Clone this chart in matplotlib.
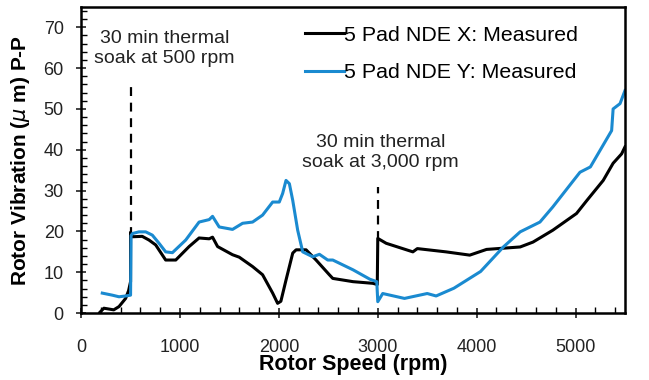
import numpy as np
import matplotlib
matplotlib.use("Agg")
import matplotlib.pyplot as plt
from matplotlib.ticker import MultipleLocator

plt.rcParams['font.family'] = ['Liberation Sans', 'DejaVu Sans']

# 5 Pad NDE X (black)
x_rpm = [190, 230, 330, 383, 450, 480, 500, 500, 518, 618, 686, 754, 855, 957, 1092, 1193,
         1295, 1329, 1380, 1531, 1599, 1734, 1835, 1937, 1987, 2020, 2072, 2140, 2174,
         2275, 2376, 2510, 2545, 2750, 2950, 2995, 3000, 3085, 3355, 3400, 3690, 3930,
         4100, 4440, 4570, 4770, 5010, 5115, 5280, 5380, 5466, 5500]
x_amp = [0.2, 1.2, 0.8, 1.6, 3.6, 5.5, 7.7, 19.8, 18.7, 18.8, 17.9, 16.7, 13.0, 13.0, 16.3,
         18.4, 18.2, 18.6, 16.3, 14.3, 13.7, 11.4, 9.4, 4.9, 2.4, 2.9, 8.1, 14.7, 15.5,
         15.5, 13.0, 9.4, 8.5, 7.7, 7.3, 7.0, 18.3, 17.1, 15.0, 15.8, 15.0, 14.2,
         15.6, 16.2, 17.4, 20.3, 24.4, 27.6, 32.5, 36.7, 39.0, 40.7]

# 5 Pad NDE Y (blue)
y_rpm = [214, 315, 383, 450, 500, 505, 520, 585, 653, 720, 788, 855, 923, 1058, 1193, 1295,
         1329, 1396, 1531, 1633, 1734, 1835, 1937, 2004, 2038, 2072, 2106, 2140, 2190,
         2241, 2342, 2410, 2494, 2545, 2750, 2920, 2990, 3000, 3050, 3270, 3500, 3590,
         3770, 4040, 4270, 4440, 4640, 4770, 4980, 5045, 5150, 5365, 5380, 5450, 5500]
y_amp = [4.9, 4.4, 4.0, 4.2, 4.4, 19.0, 19.5, 19.9, 19.9, 19.1, 17.1, 15.0, 14.8, 17.9, 22.3,
         22.9, 23.7, 21.1, 20.5, 22.0, 22.3, 24.0, 27.2, 27.2, 29.3, 32.5, 31.7, 27.6, 20.3,
         15.0, 13.8, 14.4, 13.0, 13.0, 10.6, 8.3, 7.7, 2.8, 4.8, 3.6, 4.8, 4.2,
         6.1, 10.2, 16.2, 19.9, 22.3, 26.0, 32.5, 34.5, 35.8, 44.7, 50.0, 51.3, 54.5]

soak_rpm = [500, 3000]
soak_top = [56, 31]
soak_bottom = [19, 18]
soak_text = ["30 min thermal\nsoak at 500 rpm", "30 min thermal\nsoak at 3,000 rpm"]
soak_text_pos = [(840, 64.8), (3026, 39.4)]

fig = plt.figure(figsize=(6.49, 3.8), dpi=100)
ax = fig.add_axes([0.125, 0.176, 0.838, 0.806])

for r, b, t in zip(soak_rpm, soak_bottom, soak_top):
    ax.plot([r, r], [b, t], color='black', lw=1.6, ls=(0, (4, 3)))

ax.plot(x_rpm, x_amp, color='black', lw=2.2, label='5 Pad NDE X: Measured')
ax.plot(y_rpm, y_amp, color='#1a8ad0', lw=2.2, label='5 Pad NDE Y: Measured')

for (tx, ty), s in zip(soak_text_pos, soak_text):
    ax.text(tx, ty, s, ha='center', va='center', fontsize=14, color='#222222',
            linespacing=1.2)

ax.set_xlim(0, 5500)
ax.set_ylim(0, 75)
ax.xaxis.set_major_locator(MultipleLocator(1000))
ax.xaxis.set_minor_locator(MultipleLocator(200))
ax.yaxis.set_minor_locator(MultipleLocator(2))
ax.set_yticks(range(0, 71, 10))
ax.tick_params(which='major', direction='inout', length=7, width=1.2, labelsize=13,
               colors='#222222')
ax.tick_params(which='minor', direction='in', length=4, width=1)
ax.tick_params(axis='x', which='major', pad=15)
ax.tick_params(axis='y', which='major', pad=9)
for sp in ax.spines.values():
    sp.set_linewidth(1.8)

ax.set_xlabel('Rotor Speed (rpm)', fontsize=15.5, fontweight='bold', labelpad=-1)
ax.set_ylabel('Rotor Vibration ($\\mu$ m) P-P', fontsize=15, fontweight='bold', labelpad=8)

leg = ax.legend(loc='upper left', bbox_to_anchor=(0.412, 0.938), frameon=False, fontsize=15.4,
                handlelength=1.8, handletextpad=0.0, labelspacing=0.85, borderaxespad=0,
                borderpad=0)

fig.savefig('out.png', dpi=100)
